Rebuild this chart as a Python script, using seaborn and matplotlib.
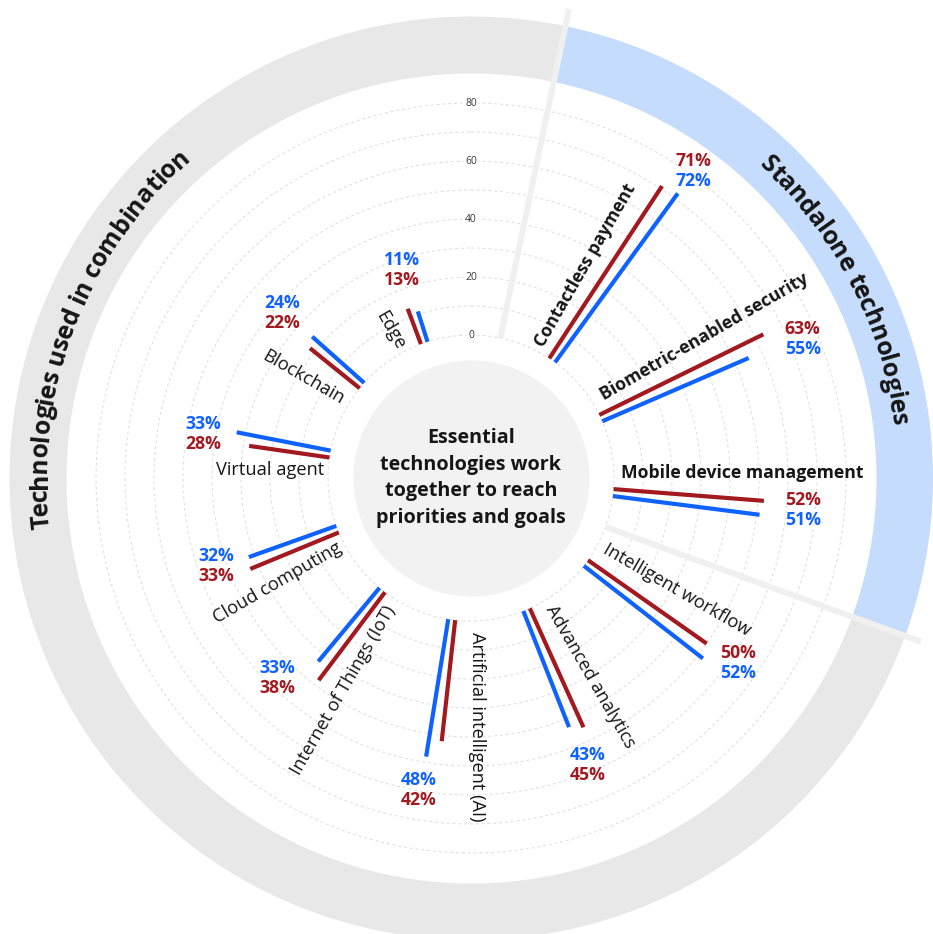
import numpy as np
import pandas as pd
import matplotlib
matplotlib.use("Agg")
import matplotlib.pyplot as plt
import seaborn as sns
from matplotlib import font_manager as fm
from matplotlib.font_manager import FontProperties
from matplotlib.textpath import text_to_path

# ---------------- data ----------------
categories = ["Contactless payment", "Biometric-enabled security", "Mobile device management",
              "Intelligent workflow", "Advanced analytics", "Artificial intelligent (AI)",
              "Internet of Things (IoT)", "Cloud computing", "Virtual agent", "Blockchain", "Edge"]
red_values = [71, 63, 52, 50, 45, 42, 38, 33, 28, 22, 13]
blue_values = [72, 55, 51, 52, 43, 48, 33, 32, 33, 24, 11]
standalone = [True, True, True, False, False, False, False, False, False, False, False]
group_titles = ["Standalone technologies", "Technologies used in combination"]
center_text = "Essential\ntechnologies work\ntogether to reach\npriorities and goals"
radial_ticks = [0, 20, 40, 60, 80]

# ---------------- style / layout ----------------
RED = "#a2191f"
BLUE = "#0f62fe"
RING_GREY = "#e8e8e8"
RING_BLUE = "#c6dcfc"
INNER_GREY = "#f2f2f2"
SEP = "#f0f0f0"
TXT = "#161616"

sns.set_theme(style="white")

# choose a family that has a real bold face
FAMILY = "DejaVu Sans"
for fam in ["IBM Plex Sans", "Open Sans", "Roboto", "Lato", "Noto Sans", "Liberation Sans"]:
    faces = [f for f in fm.fontManager.ttflist if f.name == fam]
    weights = set()
    for f in faces:
        w = f.weight
        if isinstance(w, str):
            w = fm.weight_dict.get(w, 400)
        weights.add(w)
    if any(w >= 600 for w in weights) and any(w <= 450 for w in weights):
        FAMILY = fam
        break
plt.rcParams["font.family"] = [FAMILY, "DejaVu Sans"]

W, H, DPI = 933, 934, 100
PX = 2.9            # pixels per percentage point
R0 = 143.0          # pixel radius of the 0 value
CX, CY = 471, 478   # centre in pixels (from top-left)
B = -R0 / PX
T = 110.0
RAD = (T - B) * PX


def val(rpx):
    return (rpx - R0) / PX


def text_w(s, weight, size):
    fp_ = FontProperties(family=[FAMILY], weight=weight, size=size)
    w, _, _ = text_to_path.get_text_width_height_descent(s, fp_, ismath=False)
    return w * DPI / 72.0


def fit_size(s, weight, target_px):
    return 10.0 * target_px / text_w(s, weight, 10.0)


# font sizes calibrated on widths
FS_CAT_B = fit_size("Mobile device management", "bold", 243)
FS_CAT_R = fit_size("Virtual agent", "normal", 108)
FS_PCT = fit_size("71%", "bold", 36)
FS_CENTER = fit_size("priorities and goals", "bold", 190)
FS_TITLE = fit_size("Technologies used in combination", "bold", 420)

fig = plt.figure(figsize=(W / DPI, H / DPI), dpi=DPI)
fig.patch.set_facecolor("white")
ax = fig.add_axes([(CX - RAD) / W, (H - CY - RAD) / H, 2 * RAD / W, 2 * RAD / H], projection="polar")
ax.set_theta_zero_location("N")
ax.set_theta_direction(-1)
ax.set_ylim(B, T)
ax.grid(False)
ax.set_xticks([])
ax.set_yticks([])
ax.spines["polar"].set_visible(False)
ax.patch.set_alpha(0)

full = np.linspace(0, 2 * np.pi, 400)

# inner grey disc
ax.fill_between(full, B, val(118), color=INNER_GREY, lw=0, zorder=1)

# outer ring (grey + blue standalone sector)
sep_angles = [11.8, 110.0]
blue_th = np.radians(np.linspace(sep_angles[0], sep_angles[1], 200))
grey_th = np.radians(np.linspace(sep_angles[1], sep_angles[0] + 360, 400))
ax.fill_between(grey_th, val(405), T, color=RING_GREY, lw=0, zorder=1)
ax.fill_between(blue_th, val(405), T, color=RING_BLUE, lw=0, zorder=1)

# dashed grid circles
for g in range(0, 90, 10):
    ax.plot(full, np.full_like(full, g), color="#dcdcdc", lw=0.7, ls=(0, (3, 3)), zorder=2)

# separators
for a in sep_angles:
    ax.plot([np.radians(a)] * 2, [0, val(479)], color=SEP, lw=4.3, solid_capstyle="butt",
            zorder=3, clip_on=False)

# radial tick labels
for t in radial_ticks:
    ax.text(0, t, str(t), ha="center", va="center", fontsize=7.5, color="#3a3a3a", zorder=4,
            bbox=dict(fc="white", ec="none", pad=0.8))

# ---------------- bars via seaborn ----------------
n = len(categories)
theta_deg = [34.6 + 30.63 * i for i in range(n)]
delta = 1.4
rows = []
for i, c in enumerate(categories):
    for series, vals, sgn in (("red", red_values, -1), ("blue", blue_values, 1)):
        th = np.radians(theta_deg[i] + sgn * delta)
        rows.append(dict(category=c, series=series, theta=th, value=0))
        rows.append(dict(category=c, series=series, theta=th, value=vals[i]))
df = pd.DataFrame(rows)
df["unit"] = df["category"] + "_" + df["series"]
sns.lineplot(data=df, x="theta", y="value", hue="series", units="unit", estimator=None,
             sort=False, palette={"red": RED, "blue": BLUE}, lw=3, legend=False, ax=ax,
             solid_capstyle="butt", zorder=5)
ax.set_xlabel("")
ax.set_ylabel("")
ax.set_ylim(B, T)
ax.set_xticks([])
ax.set_yticks([])

# ---------------- category labels ----------------
label_dtheta = [-6.4, -6.4, -7.0, -8.0, -8.1, -9.2, -7.4, -7.4, -7.4, -9.3, -9.6]
label_rpx = [241.6, 273, 271, 234.5, 232, 249, 247.6, 220.6, 201, 196, 168.7]
for i, c in enumerate(categories):
    rot = 90 - 30 * (i + 1)
    while rot < -90:
        rot += 180
    ax.text(np.radians(theta_deg[i] + label_dtheta[i]), val(label_rpx[i]), c,
            rotation=rot, rotation_mode="anchor", ha="center", va="center",
            fontsize=FS_CAT_B if standalone[i] else FS_CAT_R,
            fontweight="bold" if standalone[i] else "normal", color=TXT, zorder=6)

# ---------------- percentage labels ----------------
pct_dtheta = [1.3, 2.0, -0.4, -1.8, 0.7, 1.7, 5.8, 1.9, -0.3, 0.8, 0.7]
pct_gap_px = [27, 34, 40, 31, 36, 34, 25, 31, 33, 38, 38]
for i in range(n):
    th = np.radians(theta_deg[i] + pct_dtheta[i])
    r = max(red_values[i], blue_values[i]) + pct_gap_px[i] / PX
    red_top = theta_deg[i] < 140
    top = (red_values[i], RED) if red_top else (blue_values[i], BLUE)
    bot = (blue_values[i], BLUE) if red_top else (red_values[i], RED)
    for (v, col), dy in ((top, 10), (bot, -10)):
        ax.annotate(f"{v}%", (th, r), xytext=(0, dy), textcoords="offset pixels",
                    ha="center", va="center", fontsize=FS_PCT, fontweight="bold", color=col,
                    zorder=6, annotation_clip=False)

# ---------------- centre text ----------------
ax.text(0, B, center_text, ha="center", va="center", multialignment="center",
        fontsize=FS_CENTER, fontweight="bold", color=TXT,
        linespacing=26.0 / (FS_CENTER * DPI / 72.0 * 0.9), zorder=6)

# ---------------- curved group titles ----------------
title_center = [62.8, 291.0]
fp = FontProperties(family=[FAMILY], weight="bold", size=FS_TITLE)


def width_px(s):
    if not s:
        return 0.0
    w, _, _ = text_to_path.get_text_width_height_descent(s, fp, ismath=False)
    return w * DPI / 72.0


bar_w = width_px("|")
for title, cb in zip(group_titles, title_center):
    pos = [0.0] + [width_px(title[:k] + "|") - bar_w for k in range(1, len(title) + 1)]
    L = pos[-1]
    r_mid = 433.5
    r_base = r_mid - 0.36 * FS_TITLE * DPI / 72.0
    for k, ch in enumerate(title):
        if ch == " ":
            continue
        cpos = (pos[k] + pos[k + 1]) / 2 - L / 2
        b = cb + np.degrees(cpos / r_mid)
        ax.text(np.radians(b), val(r_base), ch, rotation=-b, rotation_mode="anchor",
                ha="center", va="baseline", fontproperties=fp, color=TXT, zorder=6)

fig.savefig("out.png", dpi=DPI, facecolor="white")
